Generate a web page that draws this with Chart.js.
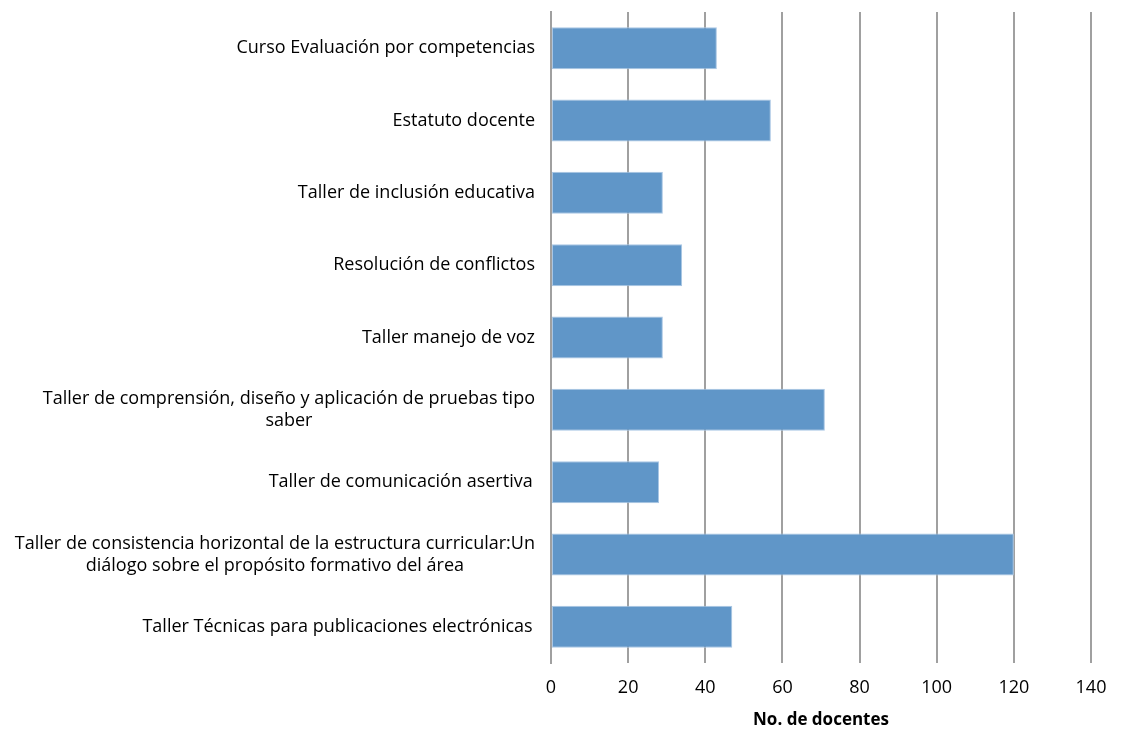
<!DOCTYPE html>
<html>
<head>
<meta charset="utf-8">
<script src="https://cdn.jsdelivr.net/npm/chart.js@4.4.0/dist/chart.umd.min.js"></script>
<style>
  html, body { margin: 0; padding: 0; background: #fff; }
  #wrap { width: 1121px; height: 730px; }
</style>
</head>
<body>
<div id="wrap"><canvas id="c" width="1121" height="730"></canvas></div>
<script>
const categories = [
    ["Curso Evaluación por competencias"],
    ["Estatuto docente"],
    ["Taller de inclusión educativa"],
    ["Resolución de conflictos"],
    ["Taller manejo de voz"],
    ["Taller de comprensión, diseño y aplicación de pruebas tipo", "saber"],
    ["Taller de comunicación asertiva "],
    ["Taller de consistencia horizontal de la estructura curricular:Un", "diálogo sobre el propósito formativo del área"],
    ["Taller Técnicas para publicaciones electrónicas "],
];
const docentes = [43, 57, 29, 34, 29, 71, 28, 120, 47];
const xTicks = [0, 20, 40, 60, 80, 100, 120, 140];
const axisTitle = "No. de docentes";

const FONT = "'Open Sans', sans-serif";
const gridGray = "#a0a0a0";

// y labels: right edge at a fixed x, wrapped lines centred on each other
const yLabelPlugin = {
    id: "yLabels",
    afterDraw(chart) {
        const ctx = chart.ctx;
        const y = chart.scales.y;
        const right = chart.chartArea.left - 16;
        const lh = 22;
        ctx.save();
        ctx.font = "18px " + FONT;
        ctx.fillStyle = "#000";
        ctx.textBaseline = "middle";
        ctx.textAlign = "center";
        categories.forEach((lines, i) => {
            const cy = y.getPixelForValue(i);
            const w = Math.max(...lines.map((l) => ctx.measureText(l.trimEnd()).width));
            const cx = right - w / 2;
            const top = cy - ((lines.length - 1) * lh) / 2;
            lines.forEach((l, k) => ctx.fillText(l, cx, top + k * lh));
        });
        ctx.restore();
    },
};

new Chart(document.getElementById("c"), {
    type: "bar",
    data: {
        labels: categories.map((c) => c.join(" ")),
        datasets: [
            {
                data: docentes,
                backgroundColor: "#6096c8",
                borderColor: "#a9c6e4",
                borderWidth: 1,
                borderSkipped: false,
                barPercentage: 0.58,
                categoryPercentage: 1,
            },
        ],
    },
    options: {
        indexAxis: "y",
        responsive: false,
        animation: false,
        layout: { padding: { top: 12, right: 30, left: 0, bottom: 0 } },
        plugins: { legend: { display: false }, tooltip: { enabled: false } },
        scales: {
            x: {
                min: 0,
                max: 140,
                afterBuildTicks: (s) => { s.ticks = xTicks.map((v) => ({ value: v })); },
                grid: { color: gridGray, lineWidth: 2, drawTicks: false },
                border: { display: false },
                ticks: { font: { size: 18, family: FONT }, color: "#000", padding: 14 },
                title: {
                    display: true,
                    text: axisTitle,
                    font: { size: 17, weight: "bold", family: FONT },
                    color: "#000",
                    padding: { top: 0, bottom: 0 },
                },
                afterFit: (s) => { s.height = 67; },
            },
            y: {
                grid: { display: false },
                border: { color: gridGray, width: 2 },
                ticks: { display: false },
                afterFit: (s) => { s.width = 551; },
            },
        },
    },
    plugins: [yLabelPlugin],
});
</script>
</body>
</html>
